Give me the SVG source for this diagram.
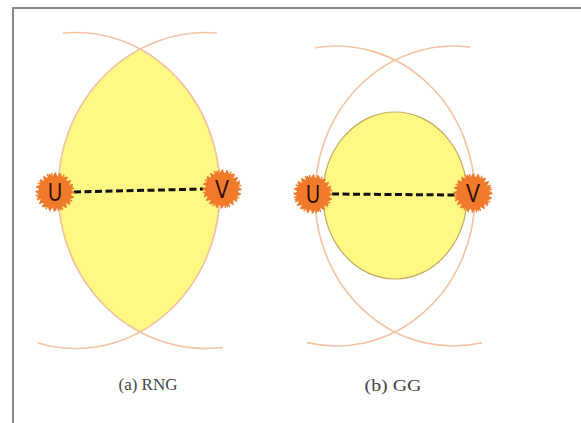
<svg xmlns="http://www.w3.org/2000/svg" width="581" height="423" viewBox="0 0 581 423">
<style>
.frame{stroke:#8a8a8a;stroke-width:2;fill:none}
.arc{fill:none;stroke:#f3c3a2;stroke-width:1.6}
.lens{fill:#fff983;stroke:#f0c890;stroke-width:1}
.gg{fill:#fff983;stroke:#c8a860;stroke-width:1.2}
.edge{stroke:#111;stroke-width:3;stroke-dasharray:7 3.5;fill:none}
.lbl{font-family:"Liberation Sans","DejaVu Sans",sans-serif;font-size:25px;fill:#2a0e04;text-anchor:middle}
.cap{font-family:"Liberation Serif","DejaVu Serif",serif;font-size:17px;fill:#444;text-anchor:middle}
.star{fill:#f07a2a}
.teeth{fill:none;stroke:#f07a2a;stroke-width:4;stroke-dasharray:1.4 2.5}
</style>
<defs>
<g id="spiky">
<polygon class="star" points="19.5,0 15.8,2.5 18.55,6.03 14.26,7.26 15.78,11.46 11.31,11.31 11.46,15.78 7.26,14.26 6.03,18.55 2.5,15.8 0,19.5 -2.5,15.8 -6.03,18.55 -7.26,14.26 -11.46,15.78 -11.31,11.31 -15.78,11.46 -14.26,7.26 -18.55,6.03 -15.8,2.5 -19.5,0 -15.8,-2.5 -18.55,-6.03 -14.26,-7.26 -15.78,-11.46 -11.31,-11.31 -11.46,-15.78 -7.26,-14.26 -6.03,-18.55 -2.5,-15.8 0,-19.5 2.5,-15.8 6.03,-18.55 7.26,-14.26 11.46,-15.78 11.31,-11.31 15.78,-11.46 14.26,-7.26 18.55,-6.03 15.8,-2.5"/>
<circle class="teeth" r="17.5"/>
</g>
</defs>
<rect width="581" height="423" fill="#fff"/>
<path class="frame" d="M13 423 V8 H581"/>

<g id="rng-region">
<path class="lens" d="M140.03 49 A144.1 158 0 0 1 140.03 332 A147.8 158 0 0 1 140.03 49 Z"/>
<path class="arc" d="M63 33.13 A144.1 158 0 1 1 38 342.9"/>
<path class="arc" d="M217 32.95 A147.8 158 0 1 0 223 347.43"/>
</g>

<g id="gg-region">
<path class="arc" d="M315 47.8 A138.5 150 0 1 1 307 342.6"/>
<path class="arc" d="M470 47.1 A138.5 150 0 1 0 482 342.8"/>
<ellipse class="gg" cx="395" cy="195.5" rx="72" ry="83.5"/>
</g>

<g id="connectors">
<line class="edge" x1="74" y1="192" x2="203" y2="189"/>
<line class="edge" x1="332" y1="194" x2="455" y2="195"/>
</g>

<g id="node-u-a"><use href="#spiky" x="55" y="192"/><text class="lbl" x="55" y="201" textLength="14" lengthAdjust="spacingAndGlyphs">U</text></g>
<g id="node-v-a"><use href="#spiky" x="222" y="189"/><text class="lbl" x="222" y="198" textLength="14" lengthAdjust="spacingAndGlyphs">V</text></g>
<g id="node-u-b"><use href="#spiky" x="313" y="194"/><text class="lbl" x="313" y="203" textLength="14" lengthAdjust="spacingAndGlyphs">U</text></g>
<g id="node-v-b"><use href="#spiky" x="473" y="193"/><text class="lbl" x="473" y="202" textLength="14" lengthAdjust="spacingAndGlyphs">V</text></g>

<text class="cap" x="148" y="390">(a) RNG</text>
<text class="cap" x="393" y="391" textLength="57" lengthAdjust="spacingAndGlyphs">(b) GG</text>
</svg>
